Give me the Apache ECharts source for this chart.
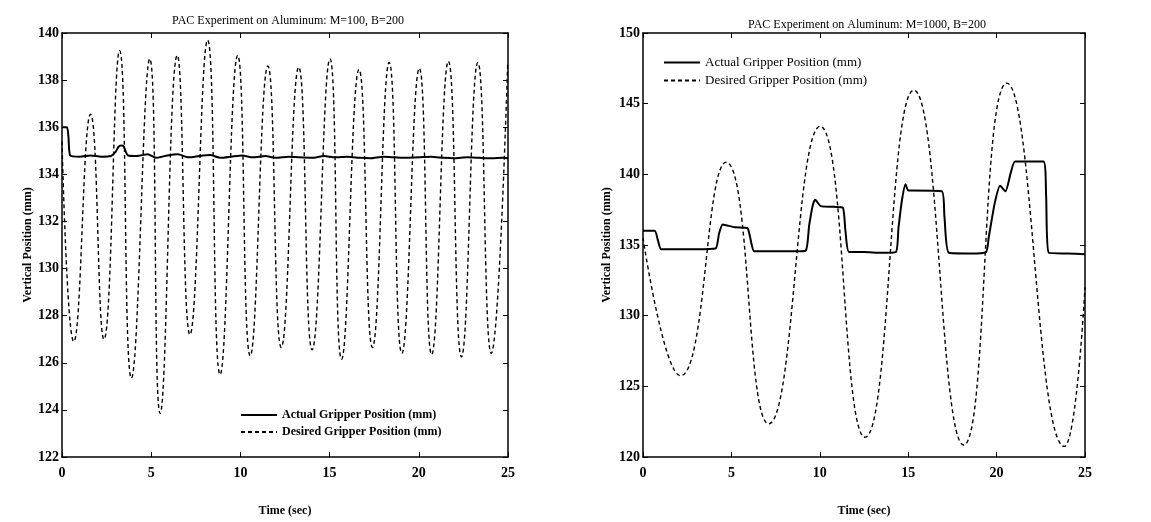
<!DOCTYPE html>
<html>
<head>
<meta charset="utf-8">
<script src="https://cdn.jsdelivr.net/npm/echarts@6/dist/echarts.min.js"></script>
<style>
  html, body { margin: 0; padding: 0; background: #fff; }
  #chart { width: 1151px; height: 522px; }
</style>
</head>
<body>
<div id="chart"></div>
<script>
// left plot: M=100, B=200
var leftActualT = [0, 0.28, 0.36, 0.46, 1.0, 1.6, 2.2, 2.75, 3.0, 3.15, 3.3, 3.45, 3.58, 3.7, 4.2, 4.8, 5.3, 5.9, 6.5, 7.1, 7.7, 8.3, 8.9, 9.5, 10.1, 10.7, 11.4, 12.0, 12.7, 13.3, 14.0, 14.7, 15.3, 16.0, 16.7, 17.3, 18.0, 18.7, 19.3, 20.0, 20.7, 21.4, 22.0, 22.7, 23.4, 24.1, 24.7, 25]
var leftActualV = [136.0, 136.0, 135.6, 134.8, 134.75, 134.8, 134.75, 134.78, 134.95, 135.15, 135.22, 135.2, 134.95, 134.8, 134.78, 134.85, 134.7, 134.8, 134.85, 134.72, 134.78, 134.82, 134.7, 134.75, 134.8, 134.72, 134.78, 134.7, 134.75, 134.72, 134.7, 134.78, 134.72, 134.75, 134.7, 134.68, 134.75, 134.72, 134.7, 134.72, 134.75, 134.7, 134.68, 134.72, 134.7, 134.68, 134.7, 134.68]
var leftDesiredT = [0, 0.66, 1.6, 2.35, 3.23, 3.89, 4.92, 5.5, 6.46, 7.17, 8.16, 8.86, 9.85, 10.55, 11.54, 12.29, 13.27, 14.02, 15.02, 15.67, 16.65, 17.4, 18.34, 19.05, 20.03, 20.72, 21.66, 22.39, 23.31, 24.06, 24.98]
var leftDesiredV = [135.4, 126.9, 136.55, 127.0, 139.25, 125.35, 138.9, 123.85, 139.05, 127.2, 139.7, 125.5, 139.05, 126.3, 138.6, 126.65, 138.55, 126.55, 138.9, 126.15, 138.45, 126.65, 138.75, 126.4, 138.5, 126.35, 138.8, 126.25, 138.75, 126.4, 138.65]

// right plot: M=1000, B=200
var rightActualT = [0, 0.66, 0.85, 1.03, 2.0, 3.0, 4.1, 4.3, 4.5, 4.7, 5.2, 5.9, 6.05, 6.3, 7.5, 8.5, 9.2, 9.4, 9.6, 9.74, 10.05, 10.8, 11.3, 11.45, 11.65, 12.5, 13.5, 14.3, 14.45, 14.65, 14.85, 15.0, 15.2, 16.9, 17.05, 17.3, 18.5, 19.4, 19.55, 19.9, 20.2, 20.5, 20.8, 21.05, 22.65, 22.8, 22.95, 24.0, 25]
var rightActualV = [136.0, 136.0, 135.3, 134.7, 134.7, 134.7, 134.75, 135.8, 136.45, 136.4, 136.25, 136.2, 135.6, 134.55, 134.55, 134.55, 134.6, 136.4, 137.8, 138.2, 137.75, 137.7, 137.65, 136.0, 134.5, 134.5, 134.45, 134.5, 136.2, 138.2, 139.3, 138.85, 138.85, 138.8, 137.0, 134.45, 134.4, 134.5, 135.5, 138.0, 139.2, 138.8, 140.1, 140.9, 140.9, 138.5, 134.45, 134.4, 134.35]
var rightDesiredT = [0, 2.12, 4.7, 7.11, 10.02, 12.56, 15.32, 18.14, 20.58, 23.83, 25]
var rightDesiredV = [135.5, 125.75, 140.85, 122.35, 143.4, 121.4, 145.95, 120.85, 146.45, 120.75, 132.0]

var xTicks = [0, 5, 10, 15, 20, 25]

var actualName = 'Actual Gripper Position (mm)'
var desiredName = 'Desired Gripper Position (mm)'

function pairs(t, v) {
  return t.map(function (x, i) { return [x, v[i]] })
}

var serif = 'Liberation Serif'
var grids = [
  { left: 62, top: 33, width: 446, height: 424 },
  { left: 643, top: 33, width: 442, height: 428 }
]

function bottomAxis(gi) {
  return {
    type: 'value', gridIndex: gi, position: 'bottom',
    min: xTicks[0], max: xTicks[xTicks.length - 1], interval: 5,
    name: 'Time (sec)', nameLocation: 'middle', nameGap: 48,
    nameTextStyle: { fontFamily: serif, fontWeight: 'bold', fontSize: 12, color: '#000' },
    axisLine: { show: true, onZero: false, lineStyle: { color: '#000', width: 1.5 } },
    axisTick: { show: true, inside: true, length: 5, lineStyle: { color: '#000' } },
    axisLabel: { fontFamily: serif, fontWeight: 'bold', fontSize: 14, color: '#000', margin: 9 },
    splitLine: { show: false }
  }
}
function topAxis(gi) {
  return {
    type: 'value', gridIndex: gi, position: 'top',
    min: 0, max: 25, interval: 5,
    axisLine: { show: true, onZero: false, lineStyle: { color: '#000', width: 1.5 } },
    axisTick: { show: true, inside: true, length: 5, lineStyle: { color: '#000' } },
    axisLabel: { show: false },
    splitLine: { show: false }
  }
}
function leftAxis(gi, min, max, step, gap) {
  return {
    type: 'value', gridIndex: gi, position: 'left',
    min: min, max: max, interval: step,
    name: 'Vertical Position (mm)', nameLocation: 'middle', nameGap: gap,
    nameTextStyle: { fontFamily: serif, fontWeight: 'bold', fontSize: 12, color: '#000' },
    axisLine: { show: true, onZero: false, lineStyle: { color: '#000', width: 1.5 } },
    axisTick: { show: true, inside: true, length: 5, lineStyle: { color: '#000' } },
    axisLabel: { fontFamily: serif, fontWeight: 'bold', fontSize: 14, color: '#000', margin: 3 },
    splitLine: { show: false }
  }
}
function rightAxis(gi, min, max, step) {
  return {
    type: 'value', gridIndex: gi, position: 'right',
    min: min, max: max, interval: step,
    axisLine: { show: true, onZero: false, lineStyle: { color: '#000', width: 1.5 } },
    axisTick: { show: true, inside: true, length: 5, lineStyle: { color: '#000' } },
    axisLabel: { show: false },
    splitLine: { show: false }
  }
}

var chart = echarts.init(document.getElementById('chart'))

var legendBase = {
  data: [actualName, desiredName],
  orient: 'vertical',
  padding: 0,
  itemWidth: 36, itemHeight: 8, itemGap: 5,
  selectedMode: false,
  itemStyle: { opacity: 0 }
}

var option = {
  backgroundColor: '#fff',
  animation: false,
  title: [
    {
      text: 'PAC Experiment on Aluminum: M=100, B=200',
      left: 283, top: 10, textAlign: 'center',
      textStyle: { fontFamily: serif, fontWeight: 'normal', fontSize: 12, color: '#000' }
    },
    {
      text: 'PAC Experiment on Aluminum: M=1000, B=200',
      left: 862, top: 14, textAlign: 'center',
      textStyle: { fontFamily: serif, fontWeight: 'normal', fontSize: 12, color: '#000' }
    }
  ],
  legend: [
    Object.assign({}, legendBase, {
      left: 240, top: 409,
      textStyle: { fontFamily: serif, fontWeight: 'bold', fontSize: 12, color: '#000' }
    }),
    Object.assign({}, legendBase, {
      left: 663, top: 56,
      textStyle: { fontFamily: serif, fontWeight: 'normal', fontSize: 13, color: '#000' }
    })
  ],
  grid: grids,
  xAxis: [bottomAxis(0), topAxis(0), bottomAxis(1), topAxis(1)],
  yAxis: [leftAxis(0, 122, 140, 2, 24), rightAxis(0, 122, 140, 2), leftAxis(1, 120, 150, 5, 30), rightAxis(1, 120, 150, 5)],
  series: [
    {
      name: desiredName, type: 'line', xAxisIndex: 0, yAxisIndex: 0,
      smooth: 0.5, symbol: 'none',
      itemStyle: { color: '#000' },
      lineStyle: { color: '#000', width: 1.4, type: [4, 3] },
      data: pairs(leftDesiredT, leftDesiredV)
    },
    {
      name: actualName, type: 'line', xAxisIndex: 0, yAxisIndex: 0,
      smooth: 0.2, symbol: 'none',
      itemStyle: { color: '#000' },
      lineStyle: { color: '#000', width: 2 },
      data: pairs(leftActualT, leftActualV)
    },
    {
      name: desiredName, type: 'line', xAxisIndex: 2, yAxisIndex: 2,
      smooth: 0.5, symbol: 'none',
      itemStyle: { color: '#000' },
      lineStyle: { color: '#000', width: 1.4, type: [4, 3] },
      data: pairs(rightDesiredT, rightDesiredV)
    },
    {
      name: actualName, type: 'line', xAxisIndex: 2, yAxisIndex: 2,
      smooth: 0.2, symbol: 'none',
      itemStyle: { color: '#000' },
      lineStyle: { color: '#000', width: 2 },
      data: pairs(rightActualT, rightActualV)
    }
  ]
}

chart.setOption(option)
</script>
</body>
</html>
